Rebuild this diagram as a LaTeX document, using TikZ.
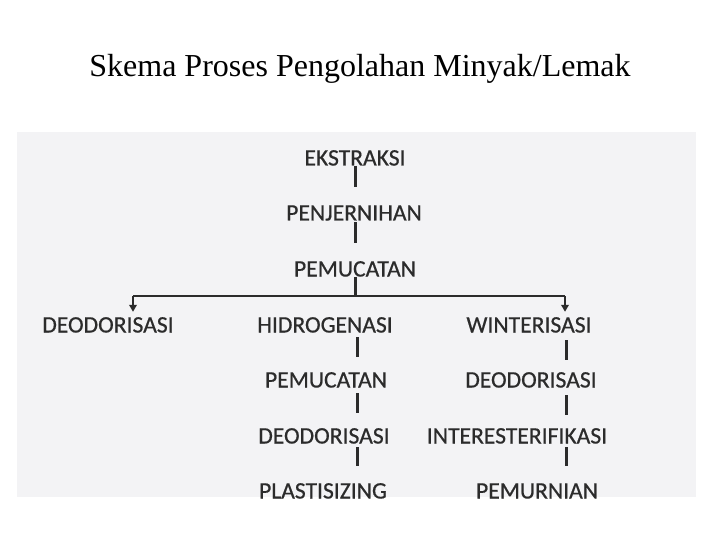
\documentclass[tikz,border=0pt]{standalone}
\usepackage{fontspec}
\setmainfont{Liberation Serif}
\newfontfamily\diagfont[BoldFont=Carlito, BoldFeatures={FakeBold=0.6}]{Carlito}
\usetikzlibrary{arrows.meta,calc}
\definecolor{scanbg}{HTML}{F3F3F5}
\definecolor{ink}{HTML}{2B2B2B}
\tikzset{
  stage/.style={inner sep=0pt, text height=15pt, text depth=0pt, anchor=center,
    font=\diagfont\bfseries\fontsize{23.6}{26}\selectfont, text=ink},
  link/.style={draw=ink, line width=3pt},
  buslink/.style={draw=ink, line width=2.5pt},
  arr/.style={draw=ink, line width=2.5pt, -{Triangle[length=7pt,width=7.5pt]}},
  titletext/.style={inner sep=0pt, anchor=base, font=\fontsize{32}{38}\selectfont}
}
\begin{document}
\begin{tikzpicture}[x=1pt,y=-1pt]
\useasboundingbox (0,0) rectangle (720,540);
\fill[scanbg] (17,132) rectangle (696,497);
\node[titletext] (title) at (360,77) {Skema Proses Pengolahan Minyak/Lemak};

\coordinate (cA) at (355,0);
\coordinate (cB) at (357,0);
\coordinate (cC) at (566,0);
\coordinate (xL) at (133,0);
\coordinate (xR) at (565,0);
\coordinate (bus) at (0,296);

\node[stage] (ek) at (355,158) {EKSTRAKSI};
\node[stage] (pj) at (354,213) {PENJERNIHAN};
\node[stage] (pm) at (355,269) {PEMUCATAN};

\node[stage] (deoA) at (108,325) {DEODORISASI};
\node[stage] (hid) at (325,325) {HIDROGENASI};
\node[stage] (win) at (529,325) {WINTERISASI};

\node[stage] (pemB) at (326,380) {PEMUCATAN};
\node[stage] (deoC) at (531,380) {DEODORISASI};

\node[stage] (deoB) at (324,436) {DEODORISASI};
\node[stage] (inter) at (517,436) {INTERESTERIFIKASI};

\node[stage] (pla) at (323,491) {PLASTISIZING};
\node[stage] (pemu) at (537,491) {PEMURNIAN};

% main chain
\draw[link, shorten >=18.5pt] (ek.south -| cA) -- (pj.north -| cA);
\draw[link, shorten <=1.5pt, shorten >=18.5pt] (pj.south -| cA) -- (pm.north -| cA);
\draw[link] (pm.south -| cA) -- (cA |- bus);

% bus and arrows
\draw[buslink] (xL |- bus) -- (xR |- bus);
\draw[arr] (xL |- bus) -- ([yshift=5.5pt]deoA.north -| xL);
\draw[arr] (xR |- bus) -- ([yshift=5.5pt]win.north -| xR);

% column B
\draw[link, shorten <=4.5pt, shorten >=15.5pt] (hid.south -| cB) -- (pemB.north -| cB);
\draw[link, shorten <=5.5pt, shorten >=15.5pt] (pemB.south -| cB) -- (deoB.north -| cB);
\draw[link, shorten <=3.5pt, shorten >=17.5pt] (deoB.south -| cB) -- (pla.north -| cB);

% column C
\draw[link, shorten <=7.5pt, shorten >=12.5pt] (win.south -| cC) -- (deoC.north -| cC);
\draw[link, shorten <=7.5pt, shorten >=13.5pt] (deoC.south -| cC) -- (inter.north -| cC);
\draw[link, shorten <=3.5pt, shorten >=17.5pt] (inter.south -| cC) -- (pemu.north -| cC);
\end{tikzpicture}
\end{document}
